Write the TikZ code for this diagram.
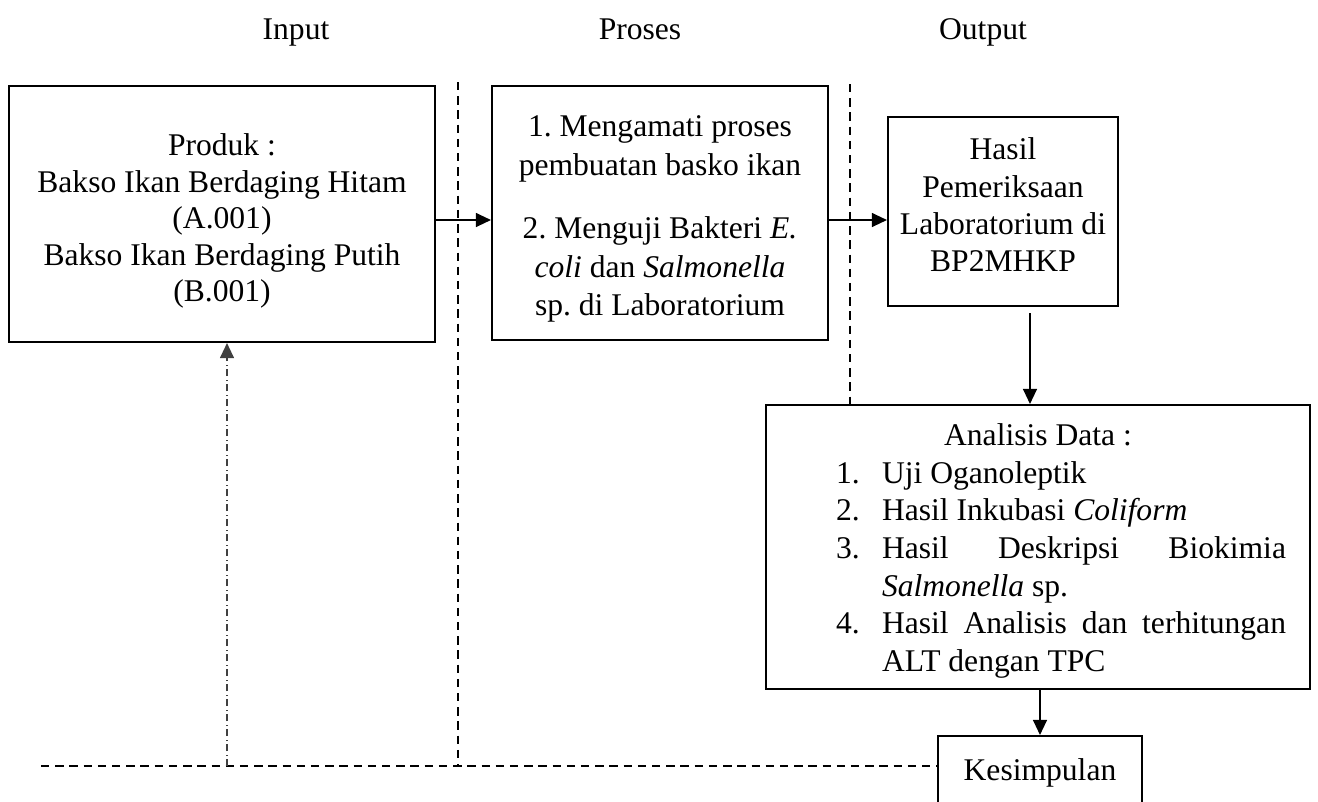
\documentclass[tikz,border=0pt]{standalone}
\usepackage{fontspec}
\setmainfont{Liberation Serif}
\usetikzlibrary{arrows.meta}
\frenchspacing
\def\pxu{0.38pt}
\tikzset{
  box/.style={draw, line width=0.8pt, inner sep=0pt},
  txt/.style={align=center, inner sep=0pt, font=\fontsize{12}{14.2}\selectfont},
  head/.style={inner sep=0pt, anchor=base, font=\fontsize{12}{14.2}\selectfont},
  arr/.style={line width=0.5pt, -{Triangle[length=5.7pt,width=5.3pt]}},
  dsh/.style={line width=0.6pt, dash pattern=on 3.2pt off 2.2pt},
  dshdot/.style={line width=0.5pt, draw=black!75, dash pattern=on 2.6pt off 1.2pt on 0.4pt off 1.5pt}
}
\newcommand{\anitem}[2]{\par\leftskip=26.6pt\rightskip=9.1pt\hangindent=17.5pt\hangafter=1\noindent\makebox[17.5pt][l]{#1}#2\par}
\begin{document}
\begin{tikzpicture}[x=0.38pt, y=-0.38pt]
\clip (0,0) rectangle (1318,801);
% headers
\node[head] (hin) at (296,39) {Input};
\node[head] (hpr) at (640,39) {Proses};
\node[head] (hout) at (983,39) {Output};
% boxes
\node[box, minimum width=426*\pxu, minimum height=256*\pxu] (prod) at (222,214) {};
\node[box, minimum width=336*\pxu, minimum height=254*\pxu] (proc) at (660,213) {};
\node[box, minimum width=230*\pxu, minimum height=189*\pxu] (hasil) at (1003,211.5) {};
\node[box, minimum width=544*\pxu, minimum height=284*\pxu] (an) at (1038,547) {};
\node[box, minimum width=204*\pxu, minimum height=72*\pxu] (kes) at (1040,772) {};
% texts
\node[txt, font=\fontsize{12}{13.9}\selectfont] (prodt) at (222,221) {Produk :\\ Bakso Ikan Berdaging Hitam\\ (A.001)\\ Bakso Ikan Berdaging Putih\\ (B.001)};
\node[txt, font=\fontsize{12}{14.6}\selectfont] (proct) at (660,219) {1. Mengamati proses\\ pembuatan basko ikan\\[9.5pt] 2. Menguji Bakteri \textit{E.}\\ \textit{coli} dan \textit{Salmonella}\\ sp. di Laboratorium};
\node[txt] (hasilt) at (1003,205) {Hasil\\ Pemeriksaan\\ Laboratorium di\\ BP2MHKP};
\node[inner sep=0pt, font=\fontsize{12}{14.3}\selectfont] (ant) at (1038,551) {%
\begin{minipage}{206.7pt}
{\centering Analisis Data :\par}
\anitem{1.}{Uji Oganoleptik}
\anitem{2.}{Hasil Inkubasi \textit{Coliform}}
\anitem{3.}{Hasil Deskripsi Biokimia\linebreak \textit{Salmonella} sp.}
\anitem{4.}{Hasil Analisis dan terhitungan\linebreak ALT dengan TPC}
\end{minipage}};
\node[txt] (kest) at (1040,773) {Kesimpulan};
% dashed separators
\coordinate (d1t) at (458,82);
\coordinate (d1b) at (458,766);
\coordinate (d2t) at (850,84);
\coordinate (hl) at (41,766);
\draw[dsh] (d1t) -- (d1b);
\draw[dsh] (d2t) -- (d2t |- an.north);
\draw[dsh] (hl) -- (hl -| kes.west);
% dash-dot feedback arrow
\coordinate (fb) at (227,766);
\draw[dshdot, arr] (fb) -- (fb |- prod.south);
% arrows
\coordinate (a1) at (435,220);
\draw[arr] (a1 -| prod.east) -- (a1 -| proc.west);
\draw[arr] (a1 -| proc.east) -- (a1 -| hasil.west);
\coordinate (h1) at (1030,313);
\draw[arr] (h1) -- (h1 |- an.north);
\draw[arr] (an.south -| kes.north) -- (kes.north);
\end{tikzpicture}
\end{document}
